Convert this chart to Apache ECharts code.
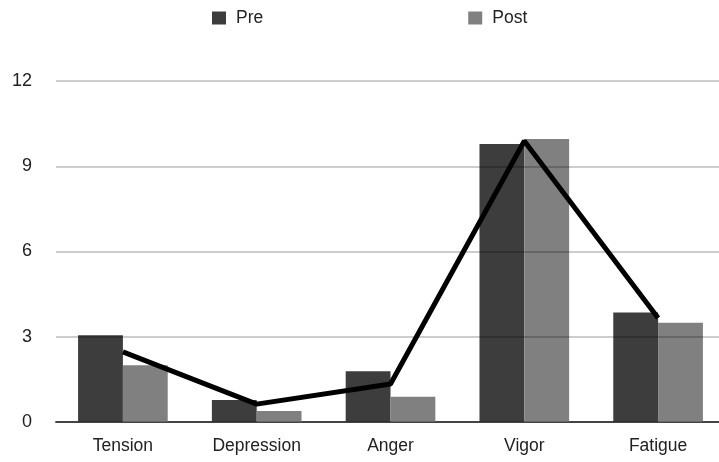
<!DOCTYPE html>
<html>
<head>
<meta charset="utf-8">
<script src="https://cdn.jsdelivr.net/npm/echarts@6/dist/echarts.min.js"></script>
<style>html,body{margin:0;padding:0;background:#fff}#c{width:719px;height:462px}</style>
</head>
<body>
<div id="c"></div>
<script>
var categories = ['Tension', 'Depression', 'Anger', 'Vigor', 'Fatigue'];
var preValues = [3.05, 0.77, 1.79, 9.78, 3.85];
var postValues = [2.0, 0.39, 0.89, 9.96, 3.49];
var lineValues = [2.47, 0.63, 1.34, 9.89, 3.66];
var yTicks = [0, 3, 6, 9, 12];

var font = 'Liberation Sans, Arial, Helvetica, sans-serif';
var chart = echarts.init(document.getElementById('c'), null, {renderer: 'canvas'});
chart.setOption({
  animation: false,
  backgroundColor: '#fff',
  legend: {
    data: ['Pre', 'Post'],
    left: 207, top: 4,
    icon: 'rect', itemWidth: 14, itemHeight: 13, itemGap: 205,
    textStyle: {fontFamily: font, fontSize: 17.5, color: '#222', padding: [0, 0, 0, 5]}
  },
  grid: {left: 56, top: 81, width: 669, height: 341, containLabel: false, outerBoundsMode: 'none'},
  xAxis: {
    type: 'category', data: categories,
    axisLine: {lineStyle: {color: '#555', width: 2}},
    axisTick: {show: false},
    axisLabel: {fontFamily: font, fontSize: 17.5, color: '#222', margin: 15}
  },
  yAxis: {
    type: 'value', min: yTicks[0], max: yTicks[yTicks.length - 1], interval: 3,
    z: 10,
    axisLine: {show: false}, axisTick: {show: false},
    axisLabel: {fontFamily: font, fontSize: 18, color: '#222', margin: 24},
    splitLine: {lineStyle: {color: 'rgba(0,0,0,0.2)', width: 2}}
  },
  series: [
    {name: 'Pre', type: 'bar', data: preValues, barGap: '0%', barCategoryGap: '33%',
     itemStyle: {color: '#3d3d3d'}},
    {name: 'Post', type: 'bar', data: postValues, barGap: '0%', barCategoryGap: '33%',
     itemStyle: {color: '#808080'}},
    {name: 'Trend', type: 'line', data: lineValues, symbol: 'none', z: 5,
     lineStyle: {color: '#000', width: 5}}
  ]
});
</script>
</body>
</html>
